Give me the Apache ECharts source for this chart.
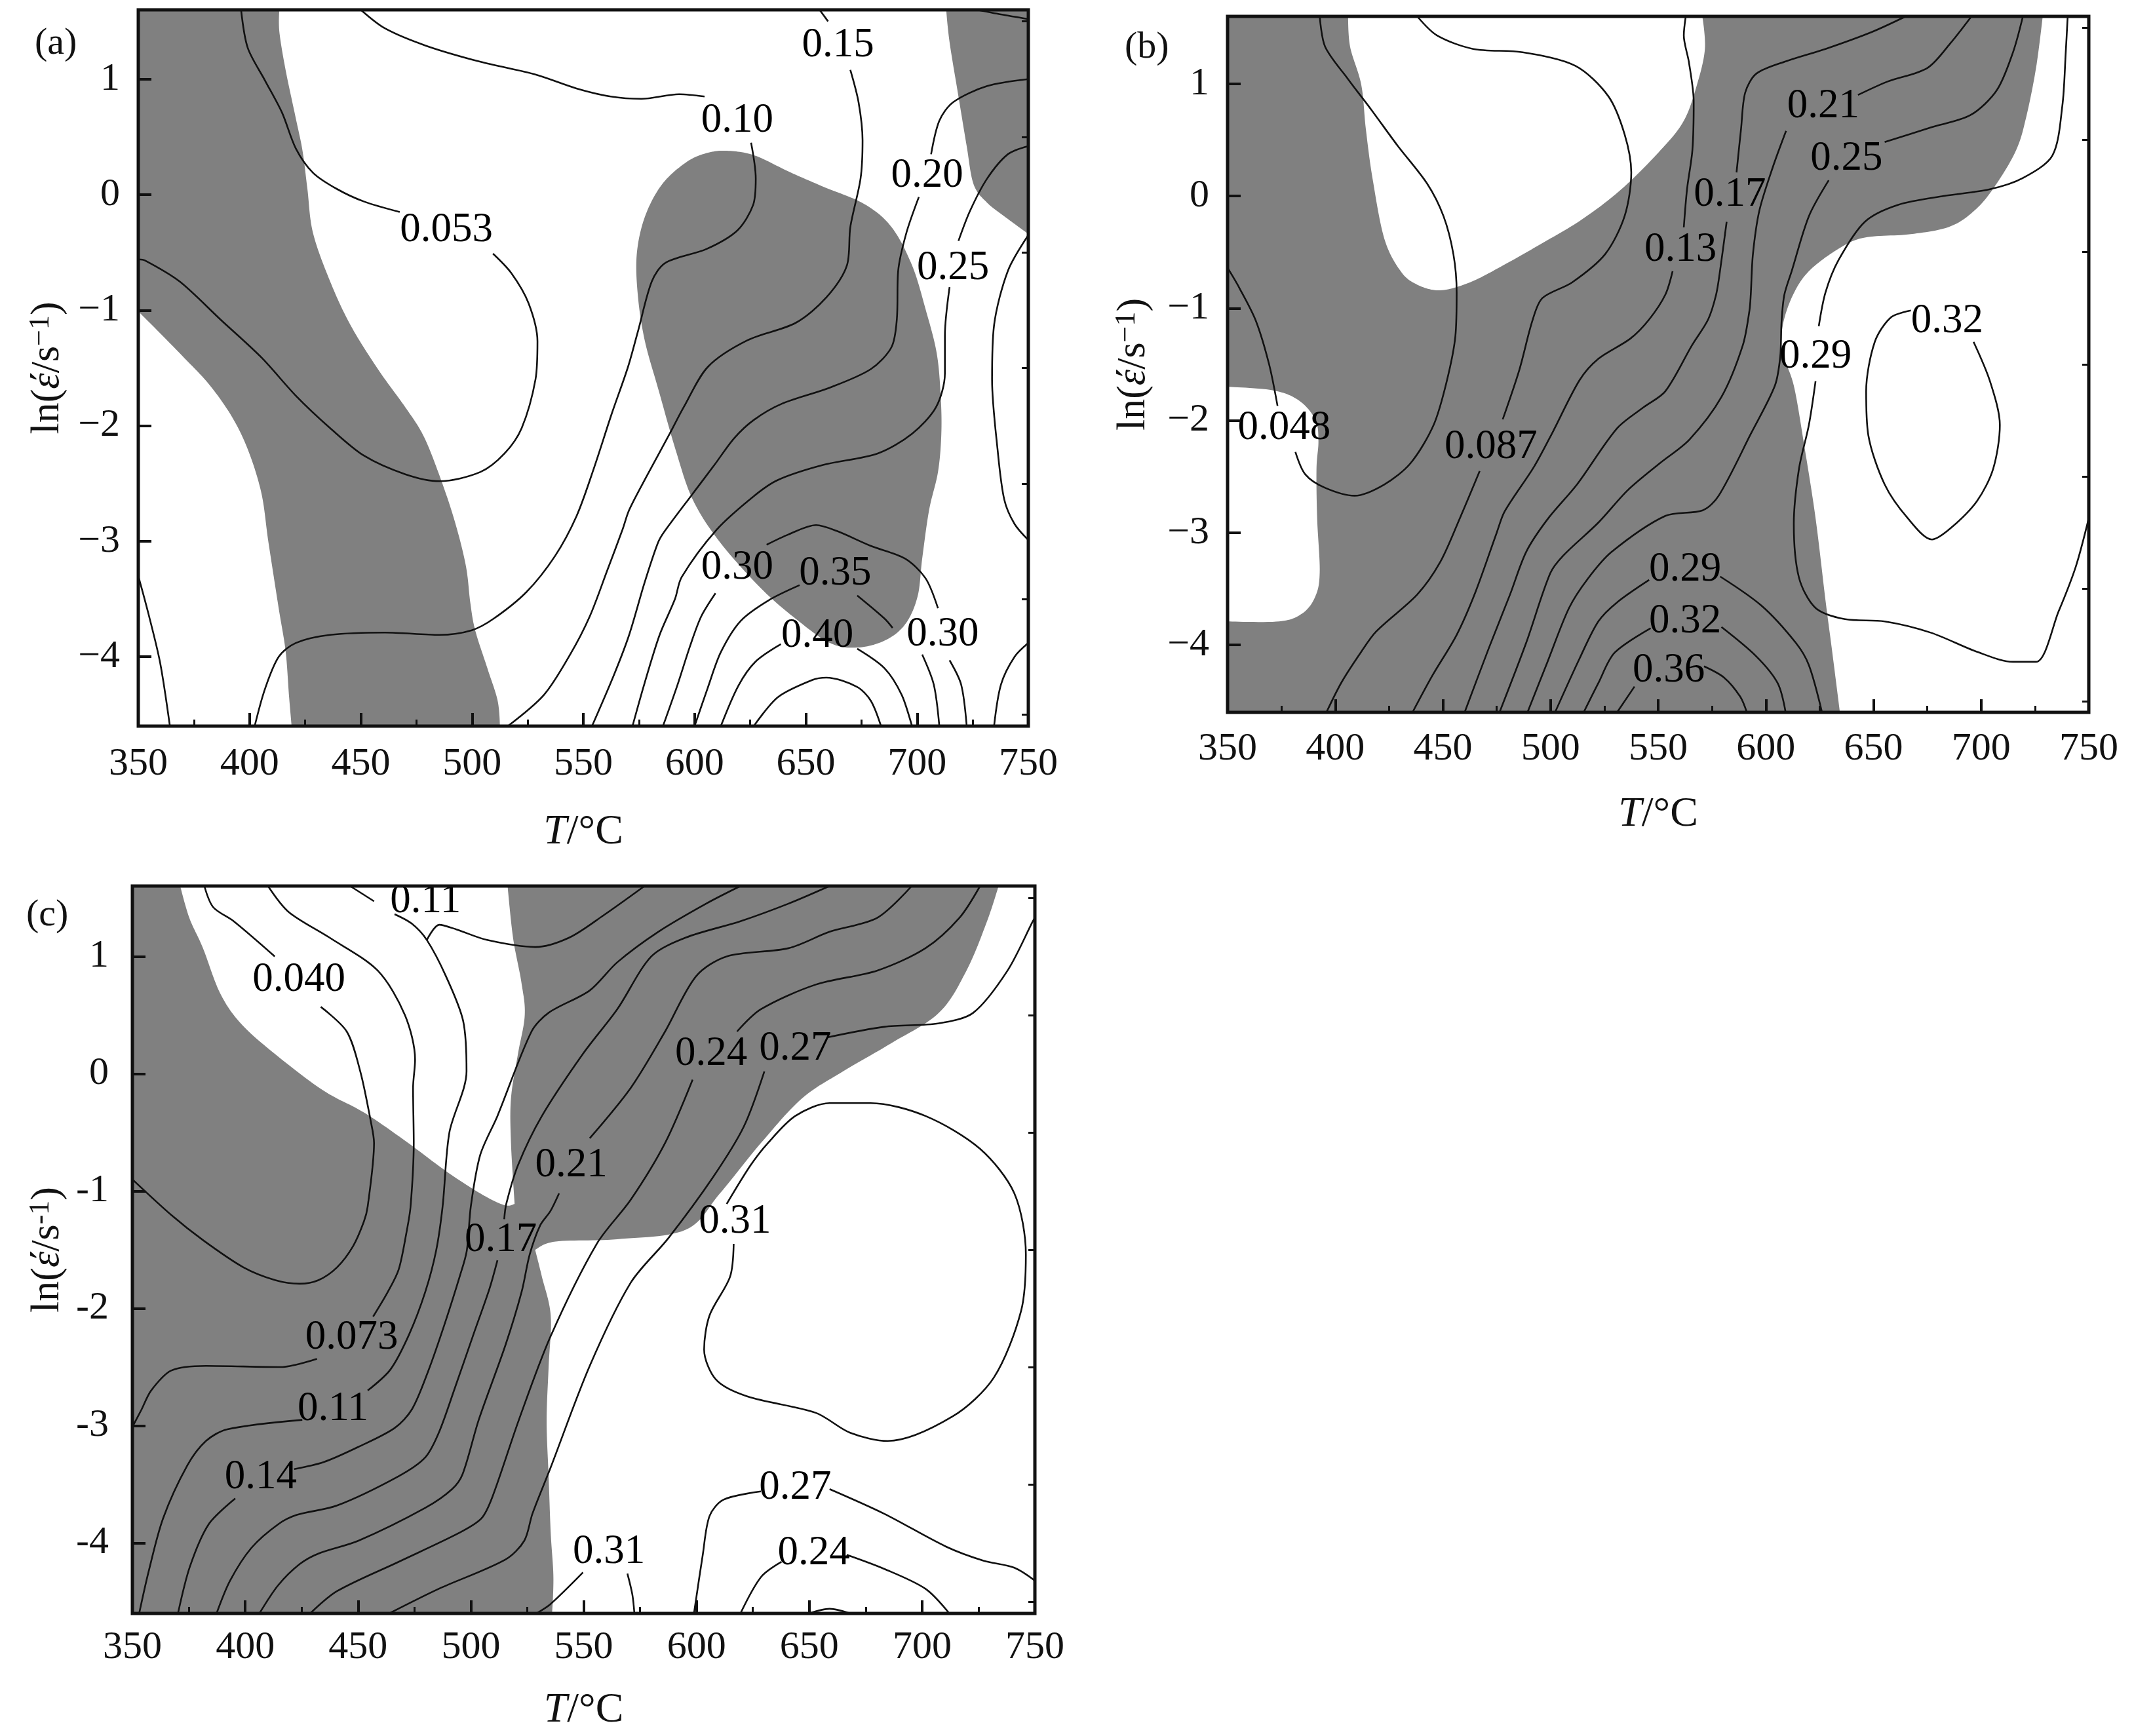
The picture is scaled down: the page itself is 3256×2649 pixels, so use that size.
<!DOCTYPE html>
<html><head><meta charset="utf-8">
<style>html,body{margin:0;padding:0;background:#fff}#c{width:3256px;height:2649px}</style>
<script src="https://cdn.jsdelivr.net/npm/echarts@6/dist/echarts.min.js"></script>
</head><body><div id="c"></div>
<script>
const xMin=350,xMax=750,yMin=-4.6,yMax=1.6;
const yTickValues=[-4,-3,-2,-1,0,1];
const yMinorValues=[-4.5,-3.5,-2.5,-1.5,-0.5,0.5,1.5];
const yTickLabelsMinus=['−4','−3','−2','−1','0','1'];
const yTickLabelsHyphen=['-4','-3','-2','-1','0','1'];

// ---------- panel (a) ----------
const aGray1=[[350,1.6],[413.4,1.6],[413.4,1.41],[416.2,1.08],[420.8,0.66],[423.8,0.38],[426,0.05],[428.5,-0.33],[436.2,-0.75],[445.4,-1.13],[457.7,-1.51],[470,-1.84],[477.7,-2.07],[483.8,-2.35],[491.5,-2.78],[497.1,-3.2],[499.2,-3.53],[501.4,-3.77],[506.9,-4.1],[511.5,-4.38],[512.5,-4.6],[418.9,-4.6],[417.7,-4.33],[416.2,-3.95],[413.1,-3.58],[408.5,-3.01],[404.8,-2.54],[396.2,-2.07],[383.8,-1.69],[368.5,-1.37],[350,-1.01]];
const aGray2=[[614.6,0.38],[626.9,0.34],[642.3,0.2],[657.7,0.07],[676.2,-0.08],[688.5,-0.28],[697.7,-0.61],[703.8,-0.99],[708.8,-1.37],[710.6,-1.74],[710.9,-2.07],[709.4,-2.4],[705.4,-2.73],[702.3,-3.15],[700.2,-3.48],[694.6,-3.72],[685.4,-3.86],[673.1,-3.92],[660.8,-3.88],[645.4,-3.67],[630,-3.41],[611.5,-3.01],[599.2,-2.64],[591.5,-2.21],[583.8,-1.69],[577.7,-1.27],[574.6,-0.89],[574,-0.52],[577.7,-0.19],[585.4,0.09],[596.2,0.28],[605.4,0.36]];
const aGray3=[[713.1,1.6],[714.6,1.32],[718.6,0.85],[722.3,0.42],[725.4,0.09],[731.5,-0.07],[740.8,-0.21],[750,-0.34],[750,1.6]];
const a053top=[[396.2,1.6],[399.2,1.27],[406.9,0.99],[414.6,0.71],[420.8,0.4],[428.5,0.19],[439.2,0.05],[451.5,-0.06],[467.5,-0.15]];
const a053low=[[509.4,-0.51],[517.7,-0.68],[525.4,-0.94],[529.4,-1.27],[528.5,-1.6],[522.3,-2.02],[514.6,-2.24],[503.8,-2.4],[485.4,-2.48],[470,-2.42],[451.5,-2.26],[436.2,-2.02],[420.8,-1.74],[405.4,-1.41],[386.9,-1.08],[368.5,-0.75],[353.1,-0.57],[350,-0.56]];
const aCorner=[[350,-3.3],[354.6,-3.63],[359.8,-4.05],[364.2,-4.6]];
const a10top=[[450,1.6],[460.8,1.44],[479.2,1.29],[503.8,1.15],[528.5,1.04],[546.9,0.92],[562.3,0.85],[576.2,0.83],[593.1,0.87],[604.5,0.85]];
const a10low=[[625.4,0.45],[627.5,0.14],[626.3,-0.09],[619.2,-0.31],[605.4,-0.47],[586.9,-0.59],[580.8,-0.75],[574.6,-1.18],[570.1,-1.49],[562.7,-1.9],[554.9,-2.36],[547,-2.78],[537.2,-3.13],[524.4,-3.44],[509.7,-3.67],[499.9,-3.77],[485.4,-3.81],[460.8,-3.79],[436.2,-3.81],[420.8,-3.88],[413.1,-4],[406.9,-4.28],[402.3,-4.6]];
const a15top=[[656.2,1.6],[660,1.5]];
const a15low=[[670,1.08],[673.7,0.8],[675.5,0.47],[674.6,0.14],[670,-0.28],[668.5,-0.61],[659.2,-0.89],[645.4,-1.11],[623.8,-1.26],[606,-1.49],[595.1,-1.84],[588.8,-2.07],[578.4,-2.44],[570.6,-2.73],[567.6,-2.9],[560.8,-3.25],[552.9,-3.65],[544.1,-3.98],[532.3,-4.33],[516.1,-4.6]];
const a20top=[[750,1.0],[731.5,0.94],[716.2,0.8],[710,0.64],[706.3,0.35]];
const a20low=[[700.8,-0.02],[695.2,-0.33],[691.5,-0.66],[690.9,-1.08],[688.5,-1.32],[679.2,-1.51],[660.8,-1.67],[639.2,-1.81],[626.6,-1.95],[617.7,-2.11],[608.9,-2.34],[599.1,-2.59],[586.3,-2.92],[583.4,-3.02],[577.5,-3.36],[570.6,-3.81],[563.7,-4.16],[553.9,-4.6]];
const a25top=[[750,0.42],[740.8,0.35],[731.5,0.14],[723.8,-0.14],[718.6,-0.4]];
const a25low=[[714.6,-0.8],[712.5,-1.22],[712.5,-1.55],[708.5,-1.84],[697.7,-2.07],[682.3,-2.24],[657.7,-2.34],[637.4,-2.47],[626.6,-2.61],[609.9,-2.9],[594.2,-3.31],[591.2,-3.5],[584.3,-3.81],[577.5,-4.23],[572.1,-4.6]];
const a30arc=[[632.4,-3.03],[642.3,-2.94],[654.6,-2.86],[663.8,-2.91],[679.2,-3.04],[694.6,-3.15],[703.8,-3.32],[709.4,-3.58]];
const a30right=[[714.6,-4.03],[719.8,-4.24],[722.3,-4.6]];
const a30left=[[609.4,-3.45],[603,-3.65],[598.1,-3.9],[592.2,-4.25],[585.8,-4.6]];
const a35left=[[647.2,-3.38],[633.4,-3.51],[620.7,-3.69],[611.8,-3.96],[605.9,-4.27],[600,-4.6]];
const a35right1=[[673.1,-3.47],[685.4,-3.67],[689,-3.75]];
const a35right2=[[702.3,-3.98],[707.5,-4.24],[710,-4.6]];
const a40left=[[638.8,-3.89],[627.5,-4.04],[619.7,-4.25],[611.8,-4.6]];
const a40right=[[673.1,-3.93],[685.4,-4.1],[693.1,-4.33],[697.7,-4.6]];
const aInner=[[626.6,-4.6],[637.4,-4.35],[653,-4.2],[659.2,-4.18],[673,-4.26],[679.2,-4.38],[683.8,-4.6]];
const aRightLow=[[734.6,-4.6],[737.7,-4.24],[743.8,-4.0],[750,-3.88]];
const aRightMid=[[750,-0.35],[740.8,-0.66],[734.6,-1.13],[733.7,-1.6],[736.2,-2.21],[739.2,-2.64],[743.8,-2.85],[750,-2.99]];
const aRightTop=[[727,1.6],[737.7,1.56],[750,1.52]];
const aLabels=[[488.5,-0.31,'0.053'],[619.2,0.64,'0.10'],[664.5,1.29,'0.15'],[704.5,0.16,'0.20'],[716.2,-0.64,'0.25'],[619.2,-3.23,'0.30'],[663.2,-3.28,'0.35'],[655.2,-3.82,'0.40'],[711.5,-3.81,'0.30']];

// ---------- panel (b) ----------
const bGray=[[350,1.6],[406,1.6],[406.9,1.33],[412.1,0.99],[414.2,0.6],[417.3,0.16],[422.8,-0.38],[430.4,-0.67],[438.1,-0.79],[448.8,-0.84],[462.5,-0.77],[477.8,-0.62],[496.2,-0.42],[514.5,-0.21],[532.9,0.06],[551.2,0.41],[561.9,0.67],[568,0.99],[571.7,1.31],[570.5,1.6],[728.6,1.6],[725.5,1.14],[720.9,0.7],[716.3,0.41],[707.2,0.11],[698,-0.11],[685.8,-0.27],[667.4,-0.34],[646,-0.37],[633.8,-0.47],[620,-0.67],[612.4,-0.89],[607.8,-1.16],[607.8,-1.4],[613,-1.69],[617.9,-2.23],[623.1,-2.87],[627.7,-3.6],[630.7,-4.04],[634.4,-4.6],[350,-4.6],[350,-3.79],[373.9,-3.79],[384.6,-3.72],[390.7,-3.57],[392.8,-3.35],[391.6,-2.87],[391.3,-2.43],[392.2,-2.18],[390.7,-1.99],[383,-1.82],[370.8,-1.73],[350,-1.7]];
const b048main=[[392.8,1.6],[395.3,1.33],[406,1.04],[416.7,0.77],[428.9,0.45],[442.7,0.11],[450.3,-0.18],[454.9,-0.52],[456.4,-0.86],[455.8,-1.25],[451.8,-1.65],[445.7,-2.04],[435,-2.38],[422.8,-2.57],[409,-2.67],[395.3,-2.6],[386.1,-2.48],[381.5,-2.28]];
const b048left=[[373.2,-1.87],[369.3,-1.5],[363.1,-1.11],[355.5,-0.82],[350,-0.64]];
const b087top=[[438.1,1.6],[447.3,1.43],[464.1,1.31],[487,1.28],[511.5,1.16],[526.8,0.89],[534.4,0.55],[537.5,0.21],[534.4,-0.18],[525.3,-0.52],[510,-0.77],[496.2,-0.91],[491.6,-1.11],[485.5,-1.55],[477.8,-1.99]];
const b087low=[[467.1,-2.45],[457.9,-2.87],[448.8,-3.26],[438.1,-3.55],[419,-3.88],[412.1,-4.06],[403,-4.33],[395.9,-4.6]];
const b13top=[[562.8,1.6],[561.9,1.43],[564.3,1.19],[566.5,0.84],[565.9,0.41],[563.4,0.06],[561.9,-0.28]];
const b13low=[[556.7,-0.67],[553.3,-0.88],[545.8,-1.1],[537.1,-1.27],[522.2,-1.45],[513.5,-1.64],[501.1,-2.1],[492.4,-2.41],[478.7,-2.81],[475,-3],[465.1,-3.53],[456.4,-3.91],[445.2,-4.27],[435.9,-4.6]];
const b17top=[[665,1.6],[649.1,1.46],[627.7,1.31],[609.4,1.2],[595.6,1.09],[590.4,0.92],[588.5,0.6],[586.4,0.21]];
const b17low=[[581.8,-0.23],[578.7,-0.67],[576.9,-0.88],[573.2,-1.1],[565.7,-1.33],[553.3,-1.74],[543.4,-1.88],[530.9,-2.07],[512.3,-2.57],[498.6,-2.88],[488.7,-3.17],[481.2,-3.55],[471.3,-4.03],[460.1,-4.6]];
const b21top=[[695.5,1.6],[685.7,1.36],[675,1.14],[656.6,1.02],[642.8,0.9]];
const b21low=[[609.4,0.58],[603.3,0.26],[597,-0.13],[594,-0.52],[593,-0.88],[592.4,-1.02],[589.3,-1.33],[579.4,-1.79],[564.5,-2.17],[550.8,-2.38],[535.9,-2.62],[522.2,-2.91],[506.1,-3.2],[499.9,-3.36],[488.7,-3.98],[476.3,-4.6]];
const b25top=[[719.4,1.6],[714.8,1.28],[707.2,0.94],[695,0.72],[676.6,0.61],[655.2,0.48]];
const b25low=[[629.2,0.14],[620,-0.18],[612,-0.67],[608.6,-0.88],[607.3,-1.12],[606.7,-1.43],[604.2,-1.69],[593,-2.12],[578.1,-2.67],[570.7,-2.8],[553.3,-2.85],[528.4,-3.17],[517.3,-3.41],[508.6,-3.67],[498.6,-4.15],[489.3,-4.6]];
const b29left=[[545.8,-3.42],[530.9,-3.62],[522.2,-3.79],[513.5,-4.12],[502.1,-4.6]];
const b29right=[[578.8,-3.39],[598,-3.65],[613.9,-3.98],[620,-4.18],[626.1,-4.6]];
const b32left=[[546.5,-3.85],[529.7,-4.07],[522.2,-4.34],[515.4,-4.6]];
const b32right=[[579.4,-3.84],[595.5,-4.1],[605.5,-4.34],[609.2,-4.6]];
const b36left=[[539,-4.37],[530.9,-4.6]];
const b36right=[[571.3,-4.19],[580.6,-4.29],[588.1,-4.46],[591.2,-4.6]];
const b29outerTop=[[740.2,1.6],[739.3,1.28],[737.7,0.8],[733.1,0.36],[719.4,0.16],[704.1,0.06],[682.7,0],[661.3,-0.08],[646,-0.23],[633.8,-0.57],[627.7,-0.86],[624.6,-1.16]];
const b29outerLow=[[623.1,-1.65],[620,-2.04],[615.4,-2.43],[613,-2.92],[615.4,-3.4],[623.1,-3.67],[636.8,-3.77],[655.2,-3.79],[676.6,-3.89],[698,-4.06],[714.8,-4.15],[725.5,-4.15],[736,-3.7],[744,-3.3],[750,-2.87]];
const b32loop=[[667.4,-1.02],[658.2,-1.08],[650.6,-1.3],[646.6,-1.74],[647.6,-2.13],[655.2,-2.57],[665.9,-2.87],[677.2,-3.06],[685.8,-2.96],[698,-2.72],[705.6,-2.43],[708.7,-2.04],[704.1,-1.65],[696.5,-1.3]];
const bLabels=[[376.3,-2.07,'0.048'],[472.3,-2.24,'0.087'],[560.4,-0.48,'0.13'],[583.3,0.01,'0.17'],[626.7,0.8,'0.21'],[637.5,0.33,'0.25'],[623.1,-1.43,'0.29'],[684.2,-1.12,'0.32'],[562.5,-3.33,'0.29'],[562.5,-3.79,'0.32'],[554.9,-4.23,'0.36']];

// ---------- panel (c) ----------
const cGray=[[350,1.6],[371.2,1.6],[375.2,1.33],[381.3,1.07],[388.8,0.69],[398,0.43],[413.1,0.17],[434.4,-0.14],[452.6,-0.33],[470.8,-0.57],[489,-0.83],[504.2,-1.02],[514.8,-1.12],[519.4,-1.11],[519.4,-1.11],[517.8,-0.59],[517.8,-0.21],[520.9,0.17],[523.9,0.5],[522.4,0.78],[518.7,1.16],[516.3,1.6],[733.9,1.6],[728.8,1.3],[719.7,0.88],[707.5,0.52],[686.3,0.26],[665,0.02],[646.8,-0.21],[628.6,-0.59],[610.4,-1.02],[595.2,-1.33],[564.9,-1.41],[537.6,-1.43],[528.5,-1.5],[528.5,-1.5],[531.5,-1.73],[535.4,-2.06],[534.5,-2.49],[533.6,-2.96],[534.5,-3.44],[535.4,-3.91],[536.6,-4.29],[536,-4.6],[350,-4.6]];
const c040low=[[350,-0.9],[367.6,-1.21],[381.4,-1.42],[399.2,-1.65],[413.4,-1.76],[424.1,-1.79],[432.4,-1.76],[440.7,-1.65],[447.8,-1.47],[452.6,-1.26],[454.3,-1.13],[457.1,-0.59],[455.6,-0.4],[451,0.02],[445,0.36],[433.5,0.57]];
const c040top=[[413.1,1.0],[394.9,1.3],[385.8,1.42],[381.9,1.6]];
const c073low=[[350,-3.01],[354.1,-2.86],[358.3,-2.7],[367.2,-2.53],[382.6,-2.49],[415.8,-2.5],[431.8,-2.43]];
const c073top=[[456.7,-2.07],[463.2,-1.86],[468,-1.67],[471.5,-1.35],[473.3,-1.13],[474.7,-0.59],[474.4,-0.12],[475.3,0.12],[470.8,0.5],[458.7,0.88],[437.4,1.16],[419.2,1.38],[410.1,1.6]];
const c11low=[[353,-4.6],[357.1,-4.25],[363.6,-3.79],[374.3,-3.34],[382.6,-3.13],[392.1,-3.03],[425.3,-2.95]];
const c11mid=[[454.3,-2.7],[464.4,-2.52],[472.7,-2.22],[479.8,-1.86],[484.6,-1.51],[487.5,-1.13],[490.5,-0.5],[498.1,0.02],[496.6,0.45],[489,0.83],[480.5,1.14],[473.8,1.28],[466.2,1.36]];
const c11top=[[457.1,1.47],[446.5,1.6]];
const c11kink=[[480.5,1.14],[486,1.27],[493.6,1.23],[507.2,1.14],[528.5,1.08],[543.6,1.16],[558.8,1.35],[577,1.6]];
const c14low=[[370.2,-4.6],[375.5,-4.2],[383.8,-3.84],[395.6,-3.62]];
const c14up=[[421.7,-3.37],[434.8,-3.31],[450.2,-3.18],[466.2,-3.02],[473.9,-2.86],[481,-2.54],[488.1,-2.15],[495.2,-1.72],[498.2,-1.51],[500,-1.13],[504.2,-0.69],[511.8,-0.36],[526.9,0.36],[534.5,0.52],[552.7,0.71],[564.9,0.95],[583.1,1.21],[604.3,1.45],[619.5,1.6]];
const c17low=[[387.3,-4.6],[393.3,-4.32],[402.8,-4.04],[414.6,-3.84],[422.9,-3.76],[440.7,-3.68],[468,-3.43],[479.8,-3.27],[485.8,-3.06],[492.9,-2.68],[501.2,-2.22],[508.3,-1.83],[511.8,-1.59]];
const c17up=[[514.8,-1.24],[515.7,-1.11],[520.9,-0.78],[531.5,-0.36],[549.7,0.17],[564.9,0.55],[580,1.0],[595.2,1.16],[619.5,1.3],[640.8,1.45],[659,1.6]];
const c21low=[[406.3,-4.6],[414.6,-4.36],[424.1,-4.18],[432.4,-4.09],[450.2,-3.98],[479.8,-3.7],[491.7,-3.54],[496.4,-3.41],[503.5,-2.95],[515.4,-2.31],[522.5,-1.86],[526.1,-1.54],[530.8,-1.29],[535.3,-1.17],[539.1,-1.02]];
const c21up=[[552.7,-0.55],[570.9,-0.12],[586.1,0.36],[599.8,0.83],[613.4,1.0],[640.8,1.07],[659,1.21],[680.2,1.33],[695.4,1.6]];
const c24low=[[428.8,-4.6],[440.7,-4.41],[468,-4.16],[495.2,-3.91],[504.7,-3.79],[509.5,-3.61],[521.3,-2.95],[535.3,-2.24],[555.8,-1.45],[571,-1.07],[586.1,-0.59],[598.3,-0.05]];
const c24up=[[618,0.36],[628.6,0.55],[652.9,0.76],[680.2,0.88],[701.5,1.07],[716.6,1.33],[725.7,1.6]];
const c27low=[[463.8,-4.6],[485.8,-4.39],[515.4,-4.14],[523.7,-3.98],[527.3,-3.75],[535.3,-3.36],[552.7,-2.49],[570.9,-1.78],[587.6,-1.4],[607.4,-0.88],[621,-0.45],[630.1,0.02]];
const c27up=[[658,0.31],[683.2,0.4],[707.5,0.43],[722.7,0.52],[737.9,0.88],[749.1,1.3],[750,1.33]];
const c31botLeft=[[529,-4.6],[535.3,-4.52],[549.7,-4.25]];
const c31botRight=[[569.4,-4.26],[571.6,-4.44],[572.5,-4.6]];
const c31loop=[[616.5,-1.45],[614.9,-1.73],[605.8,-2.06],[603.4,-2.35],[608.8,-2.61],[622.5,-2.75],[652.9,-2.89],[668.1,-3.06],[684.8,-3.13],[713.6,-2.92],[731.8,-2.59],[743.9,-2.02],[746,-1.54],[740.9,-1.02],[725.7,-0.64],[701.5,-0.36],[677.2,-0.25],[659,-0.25],[643.8,-0.36],[631.7,-0.59],[624,-0.78],[613.4,-1.11]];
const c27botLeft=[[598.9,-4.6],[602.8,-4.1],[605.8,-3.77],[612,-3.63],[628.6,-3.56]];
const c27botRight=[[659,-3.54],[683.2,-3.75],[710.6,-4.03],[727.2,-4.15],[740.9,-4.21],[750,-4.32]];
const c24botLeft=[[619.5,-4.6],[628.6,-4.29],[637.7,-4.16]];
const c24botRight=[[666.6,-4.1],[683.2,-4.22],[701.5,-4.39],[712.1,-4.6]];
const cTiny=[[649.9,-4.6],[659,-4.56],[668.1,-4.6]];
const cLabels=[[423.8,0.8,'0.040'],[479.9,1.47,'0.11'],[606.5,0.17,'0.24'],[643.8,0.21,'0.27'],[544.5,-0.78,'0.21'],[513.3,-1.42,'0.17'],[617.1,-1.26,'0.31'],[447.2,-2.25,'0.073'],[438.9,-2.86,'0.11'],[406.9,-3.44,'0.14'],[643.8,-3.53,'0.27'],[561.2,-4.08,'0.31'],[652,-4.09,'0.24']];

const panels=[
 {tag:'(a)',tagX:89,tagY:70,left:211,right:1569,top:15,bottom:1108,yLabels:yTickLabelsMinus,nameGapX:130,nameGapY:105,marginX:28,marginY:28,
  gray:[aGray1,aGray2,aGray3],
  lines:[a053top,a053low,aCorner,a10top,a10low,a15top,a15low,a20top,a20low,a25top,a25low,a30arc,a30right,a30left,a35left,a35right1,a35right2,a40left,a40right,aInner,aRightLow,aRightMid,aRightTop],labels:aLabels},
 {tag:'(b)',tagX:1752,tagY:76,left:1873,right:3187,top:25,bottom:1087,yLabels:yTickLabelsMinus,nameGapX:124,nameGapY:110,marginX:26,marginY:28,
  gray:[bGray],
  lines:[b048main,b048left,b087top,b087low,b13top,b13low,b17top,b17low,b21top,b21low,b25top,b25low,b29left,b29right,b32left,b32right,b36left,b36right,b29outerTop,b29outerLow,b32loop],labels:bLabels},
 {tag:'(c)',tagX:76,tagY:1400,left:202,right:1579,top:1352,bottom:2462,yLabels:yTickLabelsHyphen,nameGapX:116,nameGapY:96,marginX:22,marginY:36,
  gray:[cGray],
  lines:[c040low,c040top,c073low,c073top,c11low,c11mid,c11top,c11kink,c14low,c14up,c17low,c17up,c21low,c21up,c24low,c24up,c27low,c27up,c31botLeft,c31botRight,c31loop,c27botLeft,c27botRight,c24botLeft,c24botRight,cTiny],labels:cLabels}
];

const FONT='"Liberation Serif","Times New Roman",serif', INK='#111', GRAY='#808080', FS=60, LS=63;

function onEdge(p){return p[0]===xMin||p[0]===xMax||p[1]===yMin||p[1]===yMax;}
function bendPolygon(dataPts,api){
  const px=dataPts.map(p=>api.coord(p)),n=px.length,out=[];
  const tan=i=>{const k=(i+n)%n;if(onEdge(dataPts[k]))return[0,0];const a=px[(k-1+n)%n],b=px[(k+1)%n];return[(b[0]-a[0])/2,(b[1]-a[1])/2];};
  for(let i=0;i<n;i++){
    const p0=px[i],p1=px[(i+1)%n],m0=tan(i),m1=tan(i+1);
    for(let s=0;s<14;s++){
      const t=s/14,t2=t*t,t3=t2*t;
      const h00=2*t3-3*t2+1,h10=t3-2*t2+t,h01=-2*t3+3*t2,h11=t3-t2;
      out.push([h00*p0[0]+h10*m0[0]+h01*p1[0]+h11*m1[0],h00*p0[1]+h10*m0[1]+h01*p1[1]+h11*m1[1]]);
    }
  }
  return out;
}

const W=3256,H=2649,grids=[],xAxes=[],yAxes=[],series=[],graphics=[];
panels.forEach((p,i)=>{
  grids.push({left:p.left,top:p.top,width:p.right-p.left,height:p.bottom-p.top,containLabel:false,outerBoundsMode:'none'});
  xAxes.push({type:'value',gridIndex:i,min:xMin,max:xMax,interval:50,z:5,
    name:'{i|T}{n|/°C}',nameLocation:'middle',nameGap:p.nameGapX,
    nameTextStyle:{rich:{i:{fontFamily:FONT,fontStyle:'italic',fontSize:64,color:INK},n:{fontFamily:FONT,fontSize:64,color:INK}}},
    axisLine:{show:false,onZero:false},splitLine:{show:false},
    axisTick:{show:true,inside:true,length:20,lineStyle:{color:INK,width:4}},
    minorTick:{show:true,splitNumber:2,length:10,lineStyle:{color:INK,width:3}},
    axisLabel:{fontFamily:FONT,fontSize:FS,color:INK,margin:p.marginX,showMinLabel:true,showMaxLabel:true,hideOverlap:false}});
  yAxes.push({type:'value',gridIndex:i,min:yMin,max:yMax,z:5,
    name:'{n|ln(}{i|έ}{n|/s}{u|'+(i===2?'-1':'−1')+'}{n|)}',nameLocation:'middle',nameRotate:90,nameGap:p.nameGapY,
    nameTextStyle:{rich:{n:{fontFamily:FONT,fontSize:62,color:INK},i:{fontFamily:FONT,fontStyle:'italic',fontSize:62,color:INK},u:{fontFamily:FONT,fontSize:44,color:INK,verticalAlign:'top',padding:[0,0,22,0]}}},
    axisLine:{show:false,onZero:false},splitLine:{show:false},
    axisTick:{show:true,inside:true,length:20,customValues:yTickValues,lineStyle:{color:INK,width:4}},
    axisLabel:{fontFamily:FONT,fontSize:FS,color:INK,margin:p.marginY,customValues:yTickValues,
      formatter:v=>p.yLabels[yTickValues.indexOf(v)]}});
  yAxes.push({type:'value',gridIndex:i,min:yMin,max:yMax,z:5,
    axisLine:{show:false,onZero:false},splitLine:{show:false},axisLabel:{show:false},
    axisTick:{show:true,inside:true,length:10,customValues:yMinorValues,lineStyle:{color:INK,width:3}}});
  const yIdx=i*2;
  p.gray.forEach(poly=>series.push({type:'custom',coordinateSystem:'cartesian2d',xAxisIndex:i,yAxisIndex:yIdx,z:1,clip:true,silent:true,
    data:poly,renderItem:(params,api)=>params.dataIndex===0?{type:'polygon',shape:{points:bendPolygon(poly,api)},style:{fill:GRAY,stroke:null}}:null}));
  p.lines.forEach(line=>series.push({type:'line',xAxisIndex:i,yAxisIndex:yIdx,z:2,data:line,smooth:0.3,showSymbol:false,symbol:'none',silent:true,
    lineStyle:{color:INK,width:2.6}}));
  series.push({type:'scatter',xAxisIndex:i,yAxisIndex:yIdx,z:3,silent:true,symbolSize:1,itemStyle:{color:INK,opacity:0},
    data:p.labels.map(l=>({value:[l[0],l[1]],name:l[2]})),
    label:{show:true,position:'inside',formatter:d=>d.name,fontFamily:FONT,fontSize:LS,color:'#000',opacity:1,textBorderWidth:0,textBorderColor:'transparent'}});
  series.push({type:'custom',coordinateSystem:'cartesian2d',xAxisIndex:i,yAxisIndex:yIdx,z:6,silent:true,
    data:[[xMin,yMax]],renderItem:(params,api)=>{const a=api.coord([xMin,yMax]),b=api.coord([xMax,yMin]);
      return{type:'rect',shape:{x:a[0],y:a[1],width:b[0]-a[0],height:b[1]-a[1]},style:{fill:null,stroke:'#111',lineWidth:5}};}});
  graphics.push({type:'text',left:p.tagX-36,top:p.tagY-32,style:{text:p.tag,font:'58px '+FONT,fill:INK}});
});

const chart=echarts.init(document.getElementById('c'),null,{width:W,height:H,renderer:'canvas'});
chart.setOption({animation:false,backgroundColor:'#fff',grid:grids,xAxis:xAxes,yAxis:yAxes,series,graphic:graphics});
</script></body></html>
